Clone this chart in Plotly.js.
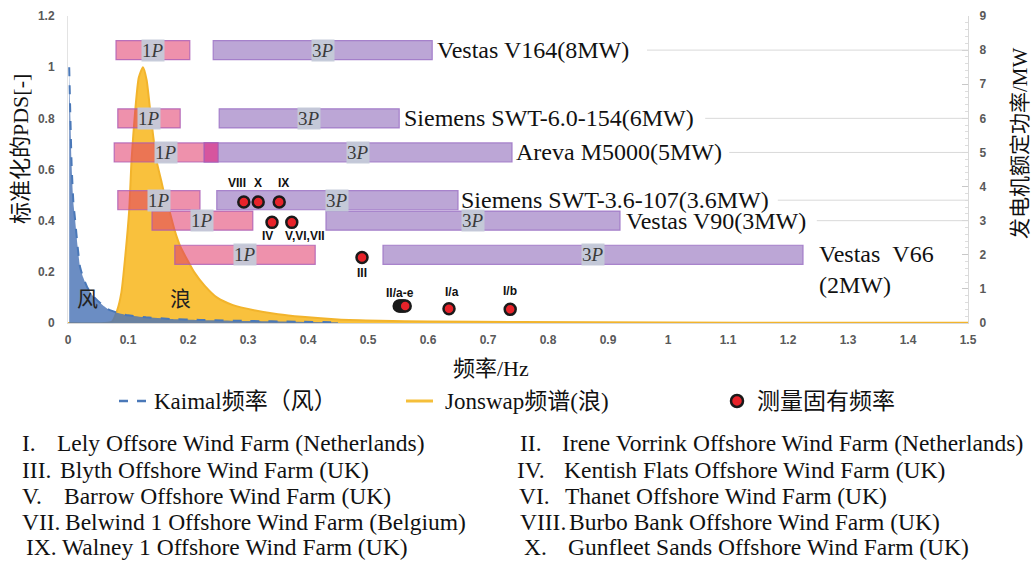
<!DOCTYPE html>
<html><head><meta charset="utf-8">
<script src="https://cdn.plot.ly/plotly-3.0.1.min.js"></script>
<style>html,body{margin:0;padding:0;background:#fff;} #chart{width:1036px;height:561px;}</style>
</head><body><div id="chart"></div>
<script>
// ---------- DATA ----------
const kaimalFreq = [0.002, 0.004, 0.006, 0.009, 0.012, 0.016, 0.020, 0.025, 0.032, 0.042, 0.055, 0.068, 0.085, 0.10, 0.13, 0.17, 0.22, 0.30, 0.38, 0.45];
const kaimalPSD  = [1.00, 0.80, 0.62, 0.47, 0.40, 0.30, 0.22, 0.18, 0.14, 0.105, 0.075, 0.052, 0.038, 0.030, 0.022, 0.016, 0.012, 0.008, 0.005, 0.003];

const jonswapFreq = [0, 0.06, 0.073, 0.082, 0.089, 0.095, 0.102, 0.106, 0.112, 0.118, 0.125, 0.131, 0.137, 0.142, 0.148, 0.155, 0.162, 0.170, 0.178, 0.187, 0.198, 0.210, 0.228, 0.248, 0.275, 0.31, 0.35, 0.39, 0.45, 0.52, 0.60, 0.75, 1.0, 1.25, 1.5];
const jonswapPSD  = [0, 0, 0.005, 0.05, 0.12, 0.25, 0.44, 0.64, 0.83, 0.96, 1.00, 0.95, 0.83, 0.73, 0.63, 0.56, 0.49, 0.43, 0.36, 0.30, 0.25, 0.20, 0.145, 0.10, 0.07, 0.05, 0.034, 0.024, 0.014, 0.009, 0.006, 0.004, 0.002, 0.001, 0.001];

const turbines = ['Vestas V164(8MW)', 'Siemens SWT-6.0-154(6MW)', 'Areva M5000(5MW)', 'Siemens SWT-3.6-107(3.6MW)', 'Vestas V90(3MW)', 'Vestas\u00a0\u00a0V66<br>(2MW)'];
const ratedMW  = [8, 6, 5, 3.6, 3, 2];
const p1Start  = [0.080, 0.083, 0.077, 0.083, 0.140, 0.178];
const p1End    = [0.203, 0.187, 0.250, 0.220, 0.308, 0.412];
const p3Start  = [0.242, 0.252, 0.227, 0.248, 0.430, 0.525];
const p3End    = [0.607, 0.552, 0.740, 0.650, 0.920, 1.225];

const natFreq  = [0.293, 0.317, 0.352, 0.340, 0.373, 0.490, 0.552, 0.554, 0.557, 0.559, 0.562, 0.635, 0.737];
const natLevel = [3.55, 3.55, 3.55, 2.95, 2.95, 1.92, 0.50, 0.50, 0.50, 0.50, 0.50, 0.42, 0.40];

const farmLabels   = ['VIII', 'X', 'IX', 'IV', 'V,VI,VII', 'III', 'II/a-e', 'I/a', 'I/b'];
const farmLabelIdx = [0, 1, 2, 3, 4, 5, 8, 11, 12];

const xTicks  = [0, 0.1, 0.2, 0.3, 0.4, 0.5, 0.6, 0.7, 0.8, 0.9, 1, 1.1, 1.2, 1.3, 1.4, 1.5];
const yTicks  = [0, 0.2, 0.4, 0.6, 0.8, 1, 1.2];
const y2Ticks = [0, 1, 2, 3, 4, 5, 6, 7, 8, 9];

const notesLeft = [['I.', 'Lely Offsore Wind Farm (Netherlands)'], ['III.', 'Blyth Offshore Wind Farm (UK)'], ['V.', 'Barrow Offshore Wind Farm (UK)'], ['VII.', 'Belwind 1 Offshore Wind Farm (Belgium)'], ['IX.', 'Walney 1 Offshore Wind Farm (UK)']];
const notesRight = [['II.', 'Irene Vorrink Offshore Wind Farm (Netherlands)'], ['IV.', 'Kentish Flats Offshore Wind Farm (UK)'], ['VI.', 'Thanet Offshore Wind Farm (UK)'], ['VIII.', 'Burbo Bank Offshore Wind Farm (UK)'], ['X.', 'Gunfleet Sands Offshore Wind Farm (UK)']];

// ---------- STYLE / POSITIONS ----------
const SERIF = 'Liberation Serif, Noto Sans CJK SC, serif';
const SANS = 'Liberation Sans, Arial, sans-serif';
const CJK = 'Noto Sans CJK SC, sans-serif';
const L = 68, R = 968, T = 16, B = 323;
const X = p => (p - L) / (R - L);
const Y = p => (B - p) / (B - T);
const labelShiftX = [3, 3, 2, 1, 4, 14];
const connectorStart = [0.965, 1.062, 1.102, 1.183, 1.248, null];
const farmShift = [[-7, 19], [0, 19], [4, 19], [-5, -14], [13, -14], [0, -15], [-2, 13], [3, 17], [0, 18]];
const notesLeftX = [[20, 55], [20, 58], [20, 62], [20, 63], [24, 60]];
const notesRightX = [[518, 560], [515, 562], [517, 563], [518, 567], [522, 566]];
const notesY = [443, 470, 496, 522, 547];

const traces = [];
traces.push({x: jonswapFreq, y: jonswapPSD, type: 'scatter', mode: 'lines', line: {color: '#F2B42C', width: 2, shape: 'spline', smoothing: 0.6},
  fill: 'tozeroy', fillcolor: 'rgba(248,188,45,0.92)', xaxis: 'x', yaxis: 'y', hoverinfo: 'skip'});
traces.push({x: kaimalFreq, y: kaimalPSD, type: 'scatter', mode: 'lines', line: {color: '#4A78B8', width: 2, dash: 'dash', shape: 'spline', smoothing: 0.5},
  fill: 'tozeroy', fillcolor: 'rgba(74,116,182,0.82)', xaxis: 'x', yaxis: 'y', hoverinfo: 'skip'});

// bars on y2 (drawn above curves)
traces.push({type: 'bar', orientation: 'h', y: ratedMW, base: p1Start, x: p1End.map((e, i) => e - p1Start[i]), width: 0.56,
  marker: {color: 'rgba(224,55,104,0.55)', line: {color: 'rgba(170,90,180,0.8)', width: 1.2}}, xaxis: 'x', yaxis: 'y2', hoverinfo: 'skip'});
traces.push({type: 'bar', orientation: 'h', y: ratedMW, base: p3Start, x: p3End.map((e, i) => e - p3Start[i]), width: 0.56,
  marker: {color: 'rgba(160,128,196,0.7)', line: {color: 'rgba(160,120,200,0.9)', width: 1.2}}, xaxis: 'x', yaxis: 'y2', hoverinfo: 'skip'});
const ovY = [], ovB = [], ovX = [];
ratedMW.forEach((m, i) => { if (p3Start[i] < p1End[i]) { ovY.push(m); ovB.push(p3Start[i]); ovX.push(p1End[i] - p3Start[i]); } });
traces.push({type: 'bar', orientation: 'h', y: ovY, base: ovB, x: ovX, width: 0.56,
  marker: {color: '#D6559E', line: {color: 'rgba(170,90,180,0.8)', width: 1.2}}, xaxis: 'x', yaxis: 'y2', hoverinfo: 'skip'});
traces.push({x: natFreq, y: natLevel, type: 'scatter', mode: 'markers', xaxis: 'x', yaxis: 'y2',
  marker: {size: 11, color: '#E8232A', line: {color: '#1a1a1a', width: 2.5}}, hoverinfo: 'skip'});

const ann = [];
const shapes = [];
function paperText(px, py, text, font, extra) {
  return Object.assign({x: X(px), y: Y(py), xref: 'paper', yref: 'paper', text: text, showarrow: false,
    xanchor: 'center', yanchor: 'middle', font: font}, extra || {});
}
// bar labels
ratedMW.forEach((m, i) => {
  ann.push({x: (p1Start[i] + p1End[i]) / 2, y: m, xref: 'x', yref: 'y2', text: '1<i>P</i>', showarrow: false, xanchor: 'center', yanchor: 'middle',
    font: {family: SERIF, size: 19, color: '#3a3a3a'}, bgcolor: 'rgba(196,202,216,0.95)', borderpad: 0});
  ann.push({x: (p3Start[i] + p3End[i]) / 2, y: m, xref: 'x', yref: 'y2', text: '3<i>P</i>', showarrow: false, xanchor: 'center', yanchor: 'middle',
    font: {family: SERIF, size: 19, color: '#3a3a3a'}, bgcolor: 'rgba(196,202,216,0.95)', borderpad: 0});
  ann.push({x: p3End[i], y: m, xref: 'x', yref: 'y2', text: turbines[i], showarrow: false, xanchor: 'left', align: 'left',
    yanchor: i === 5 ? 'top' : 'middle', yshift: i === 5 ? 16 : 0, xshift: labelShiftX[i],
    font: {family: SERIF, size: 24, color: '#111'}});
  if (connectorStart[i] !== null) {
    shapes.push({type: 'line', xref: 'x', yref: 'y2', x0: connectorStart[i], x1: 1.5, y0: m, y1: m, line: {color: '#D9D9D9', width: 1}});
  }
});
// farm labels
farmLabels.forEach((t, k) => {
  const idx = farmLabelIdx[k];
  ann.push({x: natFreq[idx], y: natLevel[idx], xref: 'x', yref: 'y2', text: '<b>' + t + '</b>', showarrow: false, xanchor: 'center', yanchor: 'middle',
    xshift: farmShift[k][0], yshift: farmShift[k][1], font: {family: SANS, size: 12, color: '#111'}});
});
// wind / wave labels
ann.push({x: 0.033, y: 0.1, xref: 'x', yref: 'y', text: '风', showarrow: false, xanchor: 'center', yanchor: 'middle', font: {family: CJK, size: 21, color: '#222'}});
ann.push({x: 0.187, y: 0.1, xref: 'x', yref: 'y', text: '浪', showarrow: false, xanchor: 'center', yanchor: 'middle', font: {family: CJK, size: 21, color: '#222'}});
// axis titles
ann.push(paperText(491, 368, '频率/Hz', {family: SERIF, size: 22, color: '#111'}));
ann.push(paperText(20, 149, '标准化的PDS[-]', {family: SERIF, size: 22, color: '#111'}, {textangle: -90}));
ann.push(paperText(1020, 143, '发电机额定功率/MW', {family: SERIF, size: 21, color: '#111'}, {textangle: -90}));
// custom legend
const legY = 401;
shapes.push({type: 'line', xref: 'paper', yref: 'paper', x0: X(119), x1: X(149), y0: Y(legY), y1: Y(legY), line: {color: '#4A78B8', width: 2.5, dash: 'dash'}});
shapes.push({type: 'line', xref: 'paper', yref: 'paper', x0: X(406), x1: X(433), y0: Y(legY), y1: Y(legY), line: {color: '#F5BF3A', width: 3}});
shapes.push({type: 'circle', xref: 'paper', yref: 'paper', x0: X(731), x1: X(743), y0: Y(legY + 6), y1: Y(legY - 6), fillcolor: '#E8232A', line: {color: '#1a1a1a', width: 2.5}});
const legFont = {family: SERIF, size: 23, color: '#111'};
const noteFont = {family: SERIF, size: 23.5, color: '#111'};
ann.push(paperText(152, legY, 'Kaimal频率（风）', legFont, {xanchor: 'left'}));
ann.push(paperText(443, legY, 'Jonswap频谱(浪)', legFont, {xanchor: 'left'}));
ann.push(paperText(755, legY, '测量固有频率', legFont, {xanchor: 'left'}));
// notes
[[notesLeft, notesLeftX], [notesRight, notesRightX]].forEach(([rows, xs]) => {
  rows.forEach((r, i) => {
    ann.push(paperText(xs[i][0], notesY[i], r[0], noteFont, {xanchor: 'left'}));
    ann.push(paperText(xs[i][1], notesY[i], r[1], noteFont, {xanchor: 'left'}));
  });
});

const tickFont = {family: SANS, size: 12, color: '#595959', weight: 'bold'};
const layout = {
  width: 1036, height: 561,
  margin: {l: L, r: 1036 - R, t: T, b: 561 - B},
  paper_bgcolor: '#fff', plot_bgcolor: 'rgba(0,0,0,0)',
  showlegend: false, barmode: 'overlay',
  xaxis: {range: [0, 1.5], tickvals: xTicks, ticktext: xTicks.map(String), tickfont: tickFont, showgrid: false, zeroline: false,
    showline: true, linecolor: '#D9D9D9', linewidth: 1, ticks: '', ticklabelstandoff: 6},
  yaxis: {range: [0, 1.2], tickvals: yTicks, ticktext: yTicks.map(String), tickfont: tickFont, showgrid: false, zeroline: false,
    showline: true, linecolor: '#E3E3E3', linewidth: 1, ticks: '', ticklabelstandoff: 10},
  yaxis2: {range: [0, 9], overlaying: 'y', side: 'right', tickvals: y2Ticks, ticktext: y2Ticks.map(String), tickfont: tickFont,
    showgrid: false, zeroline: false, showline: true, linecolor: '#D9D9D9', linewidth: 1, ticks: 'inside', ticklen: 6, tickcolor: '#C8C8C8',
    minor: {dtick: 0.2, ticks: 'inside', ticklen: 3, tickcolor: '#DDDDDD'}, ticklabelstandoff: 8},
  annotations: ann, shapes: shapes
};
Plotly.newPlot('chart', traces, layout, {displayModeBar: false, staticPlot: true});
</script></body></html>
